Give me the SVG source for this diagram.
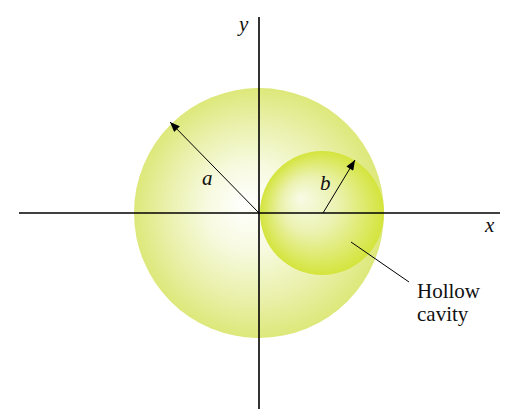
<svg xmlns="http://www.w3.org/2000/svg" width="520" height="420" viewBox="0 0 520 420">
<style>
.ax{stroke:#000;stroke-width:1.6;fill:none}
.ar{stroke:#000;stroke-width:1;fill:none}
.lbl{font-family:"Liberation Serif",serif;font-style:italic;font-size:21px;fill:#111}
.txt{font-family:"Liberation Serif",serif;font-size:21px;fill:#111}
</style>
<defs>
<radialGradient id="gBig" cx="259" cy="213" r="125" fx="245" fy="205" gradientUnits="userSpaceOnUse">
<stop offset="0" stop-color="#ffffff"/>
<stop offset="0.35" stop-color="#f7fadf"/>
<stop offset="0.75" stop-color="#e8efa4"/>
<stop offset="1" stop-color="#dde87a"/>
</radialGradient>
<radialGradient id="gSmall" cx="322" cy="213" r="62" fx="300" fy="198" gradientUnits="userSpaceOnUse">
<stop offset="0" stop-color="#f9fbe6"/>
<stop offset="0.45" stop-color="#ebf2b0"/>
<stop offset="1" stop-color="#d4e43c"/>
</radialGradient>
<marker id="ah" viewBox="0 0 10 8" refX="10" refY="4" markerWidth="11" markerHeight="8" markerUnits="userSpaceOnUse" orient="auto">
<path d="M0,0 L10,4 L0,8 z" fill="#000"/>
</marker>
</defs>
<g id="sphere">
<circle cx="259" cy="213" r="125" fill="url(#gBig)"/>
</g>
<g id="cavity">
<circle cx="322" cy="213" r="62" fill="url(#gSmall)"/>
</g>
<g id="connectors">
<line class="ax" x1="19" y1="213" x2="500" y2="213"/>
<line class="ax" x1="259" y1="17" x2="259" y2="409"/>
<line class="ar" x1="259" y1="213" x2="170" y2="122" marker-end="url(#ah)"/>
<line class="ar" x1="323" y1="213" x2="355" y2="160" marker-end="url(#ah)"/>
<line class="ar" x1="351" y1="242" x2="409" y2="282"/>
</g>
<g id="labels">
<text class="lbl" x="239" y="31">y</text>
<text class="lbl" x="485" y="232">x</text>
<text class="lbl" x="202" y="185">a</text>
<text class="lbl" x="320" y="190">b</text>
<text class="txt" x="417" y="298">Hollow</text>
<text class="txt" x="417" y="321">cavity</text>
</g>
</svg>
